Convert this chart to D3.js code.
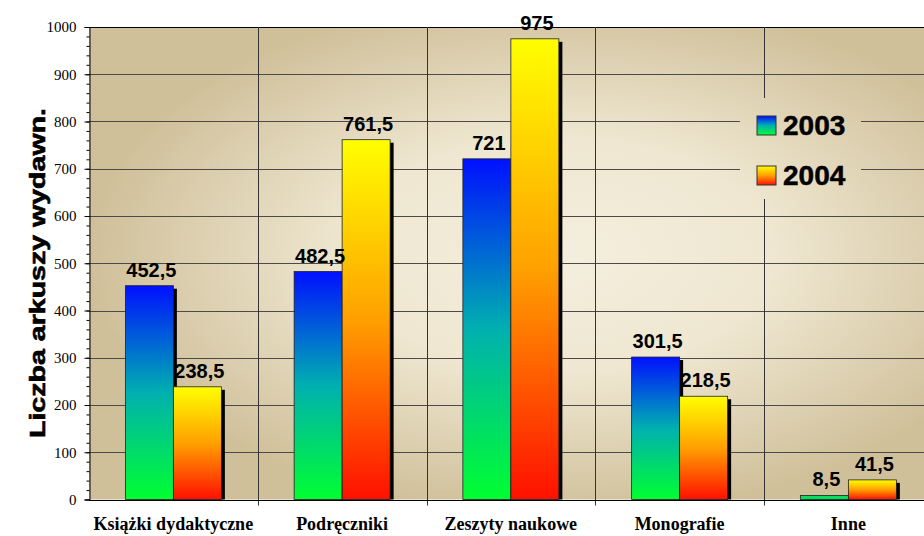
<!DOCTYPE html>
<html>
<head>
<meta charset="utf-8">
<script src="https://cdnjs.cloudflare.com/ajax/libs/d3/7.8.5/d3.min.js"></script>
<style>
    body { margin: 0; background: #fff; }
    svg { display: block; }
</style>
</head>
<body>
<div id="chart"></div>
<script>
var categories = ["Książki dydaktyczne", "Podręczniki", "Zeszyty naukowe", "Monografie", "Inne"];
var years = ["2003", "2004"];
var values2003 = [452.5, 482.5, 721, 301.5, 8.5];
var values2004 = [238.5, 761.5, 975, 218.5, 41.5];
var yTicks = [0, 100, 200, 300, 400, 500, 600, 700, 800, 900, 1000];
var yTitle = "Liczba arkuszy wydawn.";

var width = 924,
    height = 536;

// plot area runs a little past the right edge of the window, like the original
var plot = {
    left: 89,
    right: 932.75,
    top: 27,
    bottom: 499.5
};

var serif = "'Liberation Serif', 'Times New Roman', serif";
var sans = "'Liberation Sans', Arial, sans-serif";

var svg = d3.select("#chart").append("svg")
    .attr("width", width)
    .attr("height", height);

var defs = svg.append("defs");

// background: light in the middle, darker beige towards the edges
var bg = defs.append("radialGradient")
    .attr("id", "bg")
    .attr("gradientUnits", "userSpaceOnUse")
    .attr("cx", 0).attr("cy", 0).attr("r", 1)
    .attr("gradientTransform", "translate(560,255) scale(470,260)");
bg.append("stop").attr("offset", 0).attr("stop-color", "#f4eedd");
bg.append("stop").attr("offset", 0.45).attr("stop-color", "#efe7d1");
bg.append("stop").attr("offset", 1).attr("stop-color", "#d0c09a");

var gradBlue = defs.append("linearGradient")
    .attr("id", "g2003")
    .attr("x1", 0).attr("y1", 0).attr("x2", 0).attr("y2", 1);
gradBlue.append("stop").attr("offset", 0).attr("stop-color", "#0010ff");
gradBlue.append("stop").attr("offset", 0.5).attr("stop-color", "#00b0b0");
gradBlue.append("stop").attr("offset", 1).attr("stop-color", "#00ff30");

var gradYellow = defs.append("linearGradient")
    .attr("id", "g2004")
    .attr("x1", 0).attr("y1", 0).attr("x2", 0).attr("y2", 1);
gradYellow.append("stop").attr("offset", 0).attr("stop-color", "#ffff00");
gradYellow.append("stop").attr("offset", 0.5).attr("stop-color", "#ffa000");
gradYellow.append("stop").attr("offset", 1).attr("stop-color", "#ff1000");

var fills = {"2003": "url(#g2003)", "2004": "url(#g2004)"};

var x = d3.scaleBand()
    .domain(categories)
    .range([plot.left, plot.right]);

var groupWidth = 96;
var xSub = d3.scaleBand()
    .domain(years)
    .range([0, groupWidth]);

var y = d3.scaleLinear()
    .domain([0, 1000])
    .range([plot.bottom, plot.top]);

function crisp(v) {
    return Math.round(v) + 0.5;
}

svg.append("rect")
    .attr("x", plot.left)
    .attr("y", plot.top)
    .attr("width", plot.right - plot.left)
    .attr("height", plot.bottom - plot.top)
    .attr("fill", "url(#bg)");

// horizontal grid
svg.append("g").selectAll("line")
    .data(yTicks.filter(function(d) { return d > 0; }))
    .enter().append("line")
    .attr("x1", plot.left)
    .attr("x2", plot.right)
    .attr("y1", function(d) { return crisp(y(d)); })
    .attr("y2", function(d) { return crisp(y(d)); })
    .attr("stroke", function(d) { return d == 1000 ? "#000" : "#4a4a4a"; })
    .attr("stroke-width", 1);

// category separators, they poke below the axis as ticks
var bounds = categories.slice(1).map(function(c) { return x(c); });
svg.append("g").selectAll("line")
    .data(bounds)
    .enter().append("line")
    .attr("x1", function(d) { return crisp(d); })
    .attr("x2", function(d) { return crisp(d); })
    .attr("y1", plot.top)
    .attr("y2", plot.bottom + 6)
    .attr("stroke", "#333")
    .attr("stroke-width", 1);

// legend box hides the grid behind it
var legend = svg.append("g");
legend.append("rect")
    .attr("x", 740)
    .attr("y", 98)
    .attr("width", 121)
    .attr("height", 101)
    .attr("fill", "url(#bg)");

// bars
var rows = categories.map(function(c, i) {
    return {cat: c, vals: [{year: "2003", v: values2003[i]}, {year: "2004", v: values2004[i]}]};
});

var offset = (x.bandwidth() - groupWidth) / 2;

var groups = svg.append("g").selectAll("g")
    .data(rows)
    .enter().append("g")
    .attr("transform", function(d) { return "translate(" + (x(d.cat) + offset) + ",0)"; });

groups.selectAll(".shadow")
    .data(function(d) { return d.vals; })
    .enter().append("rect")
    .attr("class", "shadow")
    .attr("x", function(d) { return xSub(d.year) + 3.5; })
    .attr("y", function(d) { return y(d.v) + 3; })
    .attr("width", xSub.bandwidth())
    .attr("height", function(d) { return Math.max(0, plot.bottom - y(d.v) - 3); })
    .attr("fill", "#000");

groups.selectAll(".bar")
    .data(function(d) { return d.vals; })
    .enter().append("rect")
    .attr("class", "bar")
    .attr("x", function(d) { return xSub(d.year); })
    .attr("y", function(d) { return y(d.v); })
    .attr("width", xSub.bandwidth())
    .attr("height", function(d) { return plot.bottom - y(d.v); })
    .attr("fill", function(d) {
        // very short bars only show the bottom of the gradient
        if (plot.bottom - y(d.v) < 8) return d.year == "2003" ? "#00e060" : fills[d.year];
        return fills[d.year];
    })
    .attr("stroke", "#222")
    .attr("stroke-width", 0.8);

groups.selectAll(".val")
    .data(function(d) { return d.vals; })
    .enter().append("text")
    .attr("class", "val")
    .attr("x", function(d) { return xSub(d.year) + xSub.bandwidth() / 2 + 2; })
    .attr("y", function(d) { return y(d.v) - 9; })
    .attr("text-anchor", "middle")
    .style("font-family", sans)
    .style("font-weight", "bold")
    .style("font-size", "20px")
    .attr("fill", "#000")
    .text(function(d) { return String(d.v).replace(".", ","); });

// axes
var yAxis = d3.axisLeft(y)
    .tickValues(yTicks)
    .tickFormat(d3.format("d"))
    .tickSize(5)
    .tickPadding(8);

var yMinor = d3.axisLeft(y)
    .tickValues(d3.range(0, 1001, 20))
    .tickSize(3)
    .tickFormat("");

svg.append("g")
    .attr("transform", "translate(" + (plot.left + 0.5) + ",0)")
    .call(yMinor)
    .call(function(g) { g.select(".domain").remove(); });

var yAxisElem = svg.append("g")
    .attr("transform", "translate(" + (plot.left + 0.5) + ",0)")
    .call(yAxis);
yAxisElem.selectAll("text")
    .style("font-family", serif)
    .style("font-size", "15px")
    .attr("fill", "#000");
yAxisElem.selectAll("line, path").attr("stroke", "#000");

svg.append("line")
    .attr("x1", plot.left)
    .attr("x2", plot.right)
    .attr("y1", crisp(plot.bottom))
    .attr("y2", crisp(plot.bottom))
    .attr("stroke", "#000");

svg.append("g").selectAll("text")
    .data(categories)
    .enter().append("text")
    .attr("x", function(d) { return x(d) + x.bandwidth() / 2; })
    .attr("y", 530)
    .attr("text-anchor", "middle")
    .style("font-family", serif)
    .style("font-weight", "bold")
    .style("font-size", "18px")
    .attr("fill", "#000")
    .text(function(d) { return d; });

svg.append("text")
    .attr("transform", "translate(45,273) rotate(-90)")
    .attr("text-anchor", "middle")
    .style("font-family", sans)
    .style("font-weight", "bold")
    .style("font-size", "22px")
    .attr("textLength", 330)
    .attr("lengthAdjust", "spacingAndGlyphs")
    .attr("fill", "#000")
    .attr("stroke", "#000")
    .attr("stroke-width", 0.6)
    .text(yTitle);

// legend entries
var legendItems = legend.selectAll(".item")
    .data(years)
    .enter().append("g")
    .attr("class", "item")
    .attr("transform", function(d, i) { return "translate(757," + (116 + i * 50) + ")"; });

legendItems.append("rect")
    .attr("width", 19)
    .attr("height", 19)
    .attr("fill", function(d) { return fills[d]; })
    .attr("stroke", "#333")
    .attr("stroke-width", 1);

legendItems.append("text")
    .attr("x", 26)
    .attr("y", 19)
    .style("font-family", sans)
    .style("font-weight", "bold")
    .style("font-size", "28px")
    .attr("fill", "#000")
    .attr("stroke", "#000")
    .attr("stroke-width", 0.5)
    .text(function(d) { return d; });
</script>
</body>
</html>
